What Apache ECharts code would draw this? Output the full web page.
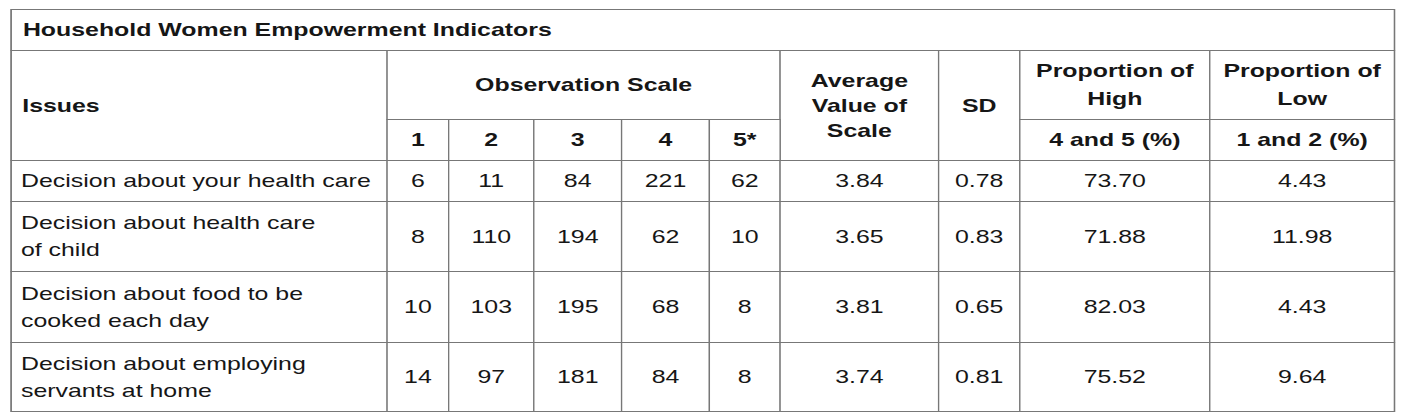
<!DOCTYPE html>
<html><head><meta charset="utf-8">
<script src="https://cdn.jsdelivr.net/npm/echarts@6/dist/echarts.min.js"></script>
<style>
html,body{margin:0;padding:0;background:#fff;overflow:hidden}
#wrap{width:1415px;height:413px;overflow:hidden;position:relative}
#chart{position:absolute;left:0;top:0;width:1080px;height:413px;transform:scaleX(1.31);transform-origin:0 0}
</style></head><body><div id="wrap"><div id="chart"></div></div>
<script>
// ---- data ----
const tableTitle = 'Household Women Empowerment Indicators';
const headIssues = 'Issues';
const headScale = 'Observation Scale';
const scaleLevels = ['1', '2', '3', '4', '5*'];
const headAverage = 'Average\nValue of\nScale';
const headSD = 'SD';
const headHigh = 'Proportion of\nHigh';
const headHighSub = '4 and 5 (%)';
const headLow = 'Proportion of\nLow';
const headLowSub = '1 and 2 (%)';
const issues = [
  'Decision about your health care',
  'Decision about health care\nof child',
  'Decision about food to be\ncooked each day',
  'Decision about employing\nservants at home'
];
const scale1 = [6, 8, 10, 14];
const scale2 = [11, 110, 103, 97];
const scale3 = [84, 194, 195, 181];
const scale4 = [221, 62, 68, 84];
const scale5 = [62, 10, 8, 8];
const averageValue = [3.84, 3.65, 3.81, 3.74];
const sdValue = [0.78, 0.83, 0.65, 0.81];
const highPct = [73.70, 71.88, 82.03, 75.52];
const lowPct = [4.43, 11.98, 4.43, 9.64];

// ---- layout (pixels in the unstretched frame) ----
const S = 1.31;
const colPx = [376, 62, 85, 87, 88, 71, 158, 81, 190, 185];
const rowPx = [41, 69, 41, 41, 70, 71, 69];
const colW = colPx.map(w => w / S);

const FONT = '"Liberation Sans", Arial, Helvetica, sans-serif';
const TEXT = '#161616';
const LINE = '#777777';

const bold = { fontWeight: 'bold' };
const leftLab = (extra) => Object.assign({ position: 'insideLeft', distance: 4.5 }, extra || {});

const cells = [];
function cell(x, y, value, label) {
  const c = { coord: [x, y], value: value };
  if (Array.isArray(x) || Array.isArray(y)) c.mergeCells = true;
  if (label) c.label = label;
  cells.push(c);
}
// header
cell([0, 9], 0, tableTitle, leftLab({ fontWeight: 'bold', distance: 6 }));
cell(0, [1, 2], headIssues, leftLab({ fontWeight: 'bold', distance: 5.5 }));
cell([1, 5], 1, headScale, bold);
scaleLevels.forEach((s, i) => cell(1 + i, 2, s, bold));
cell(6, [1, 2], headAverage, { fontWeight: 'bold', lineHeight: 25, padding: [0, 0, 10, 0] });
cell(7, [1, 2], headSD, bold);
cell(8, 1, headHigh, { fontWeight: 'bold', lineHeight: 28 });
cell(8, 2, headHighSub, bold);
cell(9, 1, headLow, { fontWeight: 'bold', lineHeight: 28 });
cell(9, 2, headLowSub, bold);
// body
const scaleCols = [scale1, scale2, scale3, scale4, scale5];
issues.forEach((name, r) => {
  const y = 3 + r;
  cell(0, y, name, leftLab({ lineHeight: 27 }));
  scaleCols.forEach((arr, k) => cell(1 + k, y, String(arr[r])));
  cell(6, y, averageValue[r].toFixed(2));
  cell(7, y, sdValue[r].toFixed(2));
  cell(8, y, highPct[r].toFixed(2));
  cell(9, y, lowPct[r].toFixed(2));
});

const chart = echarts.init(document.getElementById('chart'), null, { renderer: 'svg' });
chart.setOption({
  animation: false,
  backgroundColor: '#fff',
  matrix: {
    left: 11 / S,
    top: 9,
    width: colW.reduce((a, b) => a + b, 0),
    height: rowPx.reduce((a, b) => a + b, 0),
    x: { show: false, data: colW.map((w, i) => ({ value: 'c' + i, size: w })) },
    y: { show: false, data: rowPx.map((h, i) => ({ value: 'r' + i, size: h })) },
    backgroundStyle: { color: '#fff', borderColor: LINE, borderWidth: 1 },
    body: {
      data: cells,
      itemStyle: { color: '#fff', borderColor: LINE, borderWidth: 1 },
      label: { fontFamily: FONT, fontSize: 19, color: TEXT, lineHeight: 25, overflow: 'none', width: null }
    }
  }
});
</script></body></html>
